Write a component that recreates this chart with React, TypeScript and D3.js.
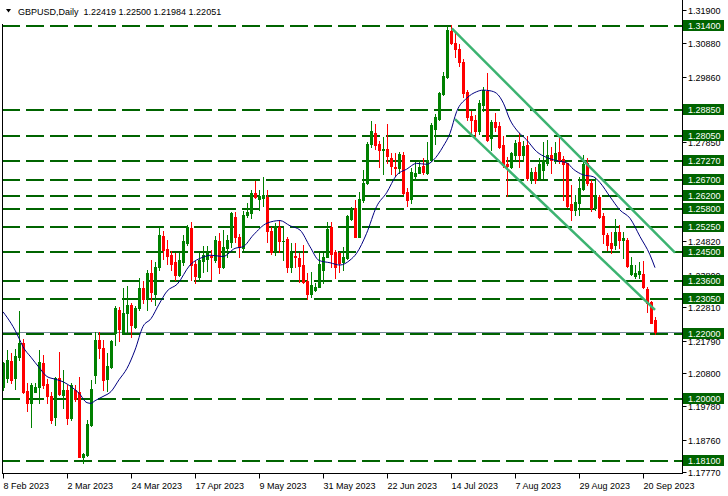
import React from "react";
import * as d3 from "d3";

const header = "GBPUSD,Daily  1.22419 1.22500 1.21984 1.22051";

const opens = [
  1.2038, 1.2063, 1.2115, 1.2063, 1.2130, 1.2171, 1.2025, 1.1987, 1.2023, 1.2036,
  1.2110, 1.2046, 1.2010, 1.1946, 1.2064, 1.2013, 1.2028, 1.1941, 1.2028, 1.2021,
  1.1824, 1.1829, 1.1921, 1.2074, 1.2181, 1.2155, 1.2061, 1.2097, 1.2201, 1.2273,
  1.2206, 1.2262, 1.2288, 1.2222, 1.2278, 1.2339, 1.2308, 1.2385, 1.2320, 1.2405,
  1.2499, 1.2458, 1.2442, 1.2419, 1.2380, 1.2420, 1.2476, 1.2524, 1.2412, 1.2373,
  1.2423, 1.2427, 1.2438, 1.2425, 1.2485, 1.2405, 1.2463, 1.2479, 1.2558, 1.2497,
  1.2461, 1.2563, 1.2570, 1.2631, 1.2611, 1.2615, 1.2619, 1.2515, 1.2454, 1.2525,
  1.2482, 1.2489, 1.2405, 1.2439, 1.2433, 1.2410, 1.2361, 1.2320, 1.2334, 1.2344,
  1.2395, 1.2436, 1.2527, 1.2451, 1.2446, 1.2420, 1.2431, 1.2550, 1.2583, 1.2497,
  1.2609, 1.2660, 1.2780, 1.2815, 1.2779, 1.2762, 1.2765, 1.2736, 1.2711, 1.2708,
  1.2747, 1.2634, 1.2611, 1.2683, 1.2693, 1.2714, 1.2693, 1.2731, 1.2825, 1.2856,
  1.2933, 1.2986, 1.3126, 1.3088, 1.3072, 1.3030, 1.2940, 1.2866, 1.2853, 1.2820,
  1.2900, 1.2942, 1.2797, 1.2846, 1.2836, 1.2776, 1.2719, 1.2711, 1.2747, 1.2787,
  1.2745, 1.2778, 1.2676, 1.2696, 1.2677, 1.2701, 1.2723, 1.2747, 1.2729, 1.2757,
  1.2733, 1.2721, 1.2597, 1.2578, 1.2601, 1.2642, 1.2721, 1.2660, 1.2583, 1.2619,
  1.2560, 1.2502, 1.2476, 1.2471, 1.2512, 1.2487, 1.2487, 1.2383, 1.2375, 1.2383,
  1.2383, 1.2336, 1.2298, 1.22419,
];
const highs = [
  1.2114, 1.2150, 1.2140, 1.2152, 1.2270, 1.2183, 1.2048, 1.2050, 1.2050, 1.2150,
  1.2135, 1.2061, 1.2023, 1.2069, 1.2145, 1.2089, 1.2043, 1.2048, 1.2043, 1.2069,
  1.1834, 1.1936, 1.2059, 1.2204, 1.2206, 1.2181, 1.2140, 1.2181, 1.2285, 1.2283,
  1.2339, 1.2346, 1.2293, 1.2285, 1.2370, 1.2360, 1.2395, 1.2425, 1.2420, 1.2525,
  1.2515, 1.2487, 1.2454, 1.2446, 1.2446, 1.2501, 1.2532, 1.2543, 1.2423, 1.2448,
  1.2468, 1.2468, 1.2456, 1.2500, 1.2507, 1.2517, 1.2502, 1.2571, 1.2573, 1.2504,
  1.2576, 1.2599, 1.2640, 1.2667, 1.2640, 1.2680, 1.2640, 1.2527, 1.2538, 1.2548,
  1.2522, 1.2495, 1.2478, 1.2476, 1.2448, 1.2471, 1.2387, 1.2390, 1.2356, 1.2446,
  1.2446, 1.2543, 1.2543, 1.2456, 1.2451, 1.2466, 1.2563, 1.2588, 1.2609, 1.2634,
  1.2701, 1.2787, 1.2852, 1.2841, 1.2790, 1.2802, 1.2841, 1.2752, 1.2752, 1.2757,
  1.2757, 1.2647, 1.2706, 1.2726, 1.2731, 1.2736, 1.2787, 1.2843, 1.2872, 1.2940,
  1.3001, 1.3141, 1.3144, 1.3120, 1.3085, 1.3040, 1.2945, 1.2880, 1.2868, 1.2915,
  1.2955, 1.2996, 1.2854, 1.2874, 1.2848, 1.2805, 1.2740, 1.2757, 1.2792, 1.2815,
  1.2790, 1.2805, 1.2706, 1.2711, 1.2738, 1.2787, 1.2792, 1.2772, 1.2787, 1.2801,
  1.2742, 1.2723, 1.2655, 1.2624, 1.2680, 1.2747, 1.2736, 1.2670, 1.2675, 1.2624,
  1.2568, 1.2509, 1.2512, 1.2550, 1.2532, 1.2512, 1.2492, 1.2436, 1.2410, 1.2420,
  1.2423, 1.2342, 1.2301, 1.22500,
];
const lows = [
  1.2028, 1.2053, 1.2048, 1.2030, 1.2120, 1.2018, 1.1965, 1.1914, 1.2022, 1.1987,
  1.2033, 1.1987, 1.1928, 1.1921, 1.2013, 1.1972, 1.1924, 1.1936, 1.1995, 1.1822,
  1.1804, 1.1827, 1.1919, 1.2048, 1.2125, 1.2028, 1.2025, 1.2095, 1.2166, 1.2179,
  1.2203, 1.2201, 1.2191, 1.2216, 1.2273, 1.2293, 1.2273, 1.2300, 1.2288, 1.2395,
  1.2428, 1.2412, 1.2395, 1.2364, 1.2375, 1.2410, 1.2471, 1.2364, 1.2354, 1.2364,
  1.2390, 1.2392, 1.2366, 1.2418, 1.2387, 1.2400, 1.2434, 1.2464, 1.2479, 1.2436,
  1.2456, 1.2558, 1.2553, 1.2614, 1.2578, 1.2590, 1.2480, 1.2444, 1.2441, 1.2451,
  1.2426, 1.2390, 1.2390, 1.2405, 1.2359, 1.2356, 1.2306, 1.2313, 1.2332, 1.2342,
  1.2354, 1.2434, 1.2405, 1.2369, 1.2390, 1.2395, 1.2428, 1.2548, 1.2495, 1.2495,
  1.2604, 1.2658, 1.2772, 1.2764, 1.2711, 1.2689, 1.2723, 1.2689, 1.2682, 1.2693,
  1.2627, 1.2592, 1.2599, 1.2670, 1.2690, 1.2689, 1.2689, 1.2729, 1.2780, 1.2853,
  1.2930, 1.2981, 1.3086, 1.3045, 1.3020, 1.2925, 1.2854, 1.2808, 1.2805, 1.2810,
  1.2880, 1.2788, 1.2762, 1.2821, 1.2767, 1.2711, 1.2621, 1.2706, 1.2730, 1.2711,
  1.2728, 1.2670, 1.2660, 1.2661, 1.2669, 1.2675, 1.2716, 1.2690, 1.2721, 1.2721,
  1.2609, 1.2589, 1.2548, 1.2563, 1.2563, 1.2640, 1.2655, 1.2576, 1.2578, 1.2553,
  1.2477, 1.2456, 1.2448, 1.2458, 1.2461, 1.2431, 1.2405, 1.2380, 1.2370, 1.2370,
  1.2339, 1.2267, 1.2232, 1.21984,
];
const closes = [
  1.2109, 1.2120, 1.2059, 1.2132, 1.2173, 1.2023, 1.1987, 1.2043, 1.2038, 1.2113,
  1.2043, 1.2008, 1.1936, 1.2064, 1.2016, 1.2028, 1.1941, 1.2043, 1.1999, 1.1824,
  1.1832, 1.1924, 1.2031, 1.2181, 1.2155, 1.2059, 1.2101, 1.2178, 1.2279, 1.2213,
  1.2262, 1.2288, 1.2227, 1.2278, 1.2339, 1.2305, 1.2385, 1.2329, 1.2405, 1.2502,
  1.2456, 1.2439, 1.2412, 1.2380, 1.2425, 1.2484, 1.2525, 1.2410, 1.2376, 1.2425,
  1.2441, 1.2446, 1.2434, 1.2487, 1.2405, 1.2464, 1.2487, 1.2570, 1.2497, 1.2464,
  1.2564, 1.2573, 1.2631, 1.2619, 1.2621, 1.2625, 1.2515, 1.2451, 1.2529, 1.2485,
  1.2485, 1.2405, 1.2448, 1.2434, 1.2407, 1.2359, 1.2321, 1.2349, 1.2344, 1.2413,
  1.2436, 1.2519, 1.2444, 1.2405, 1.2417, 1.2436, 1.2560, 1.2578, 1.2497, 1.2612,
  1.2660, 1.2780, 1.2820, 1.2777, 1.2762, 1.2765, 1.2743, 1.2714, 1.2708, 1.2750,
  1.2631, 1.2609, 1.2694, 1.2693, 1.2711, 1.2696, 1.2731, 1.2838, 1.2864, 1.2935,
  1.2988, 1.3129, 1.3088, 1.3070, 1.3030, 1.2937, 1.2864, 1.2853, 1.2820, 1.2905,
  1.2945, 1.2792, 1.2848, 1.2831, 1.2772, 1.2716, 1.2712, 1.2752, 1.2784, 1.2747,
  1.2775, 1.2676, 1.2696, 1.2671, 1.2718, 1.2731, 1.2747, 1.2731, 1.2754, 1.2731,
  1.2718, 1.2591, 1.2578, 1.2604, 1.2645, 1.2718, 1.2660, 1.2583, 1.2624, 1.2556,
  1.2504, 1.2471, 1.2461, 1.2512, 1.2487, 1.2492, 1.2407, 1.2410, 1.2385, 1.2393,
  1.2342, 1.2293, 1.2234, 1.22051,
];

// moving average readings: [bar index, value]
const maPoints: [number, number][] = [
  [0, 1.2267], [2, 1.2232], [3, 1.2211], [4, 1.2186], [5, 1.216], [7, 1.2128],
  [9, 1.2097], [11, 1.2069], [13, 1.2061], [15, 1.2053], [17, 1.2038], [19, 1.2018],
  [21, 1.1989], [22, 1.1987], [23, 1.1995], [25, 1.2008], [27, 1.2023], [29, 1.2059],
  [31, 1.2094], [33, 1.215], [35, 1.2222], [37, 1.2246], [39, 1.229], [41, 1.233],
  [43.6, 1.2352], [46.75, 1.241], [50, 1.2434], [52, 1.244], [55, 1.2436], [58, 1.2461],
  [60, 1.2466], [62.6, 1.2502], [66, 1.2538], [69.25, 1.2546], [71.75, 1.253],
  [74.25, 1.2517], [76.75, 1.2466], [79, 1.2424], [81.75, 1.2417], [84.25, 1.241],
  [86.75, 1.2425], [88.4, 1.2446], [90.9, 1.2507], [93.4, 1.2589], [95.9, 1.2631],
  [98.4, 1.2685], [100.9, 1.2703], [103.4, 1.2721], [105.9, 1.2718], [107.6, 1.2731],
  [110, 1.2772], [111.75, 1.2813], [113.4, 1.2879], [115.9, 1.292], [118.4, 1.294],
  [120, 1.2945], [121.75, 1.2943], [123.4, 1.2935], [125.1, 1.2905], [126.75, 1.2854],
  [128.4, 1.2823], [130.9, 1.2793], [133.4, 1.2757], [135.9, 1.2739], [138.4, 1.2729],
  [140.9, 1.2723], [142.6, 1.2703], [145, 1.2686], [147.6, 1.268], [149.25, 1.2662],
  [151.75, 1.2619], [154.25, 1.2578], [156.75, 1.2553], [159.25, 1.2497],
  [161.75, 1.2441], [163, 1.2402],
];

const upperChannel: [number, number][] = [[112.2, 1.3134], [168, 1.2448]];
const lowerChannel: [number, number][] = [[113, 1.2856], [163, 1.2273]];

const levels = [1.314, 1.2885, 1.2805, 1.2727, 1.267, 1.262, 1.258, 1.2525, 1.245, 1.236, 1.2305, 1.22, 1.2, 1.181];
const priceTicks = [1.319, 1.3088, 1.2986, 1.2884, 1.2785, 1.2683, 1.2581, 1.2482, 1.238, 1.2281, 1.2179, 1.208, 1.1978, 1.1876, 1.1777];
const xTickIndex = [0, 16, 32, 48, 64, 80, 96, 112, 128, 144, 160];
const xTickLabels = ["8 Feb 2023", "2 Mar 2023", "24 Mar 2023", "17 Apr 2023", "9 May 2023", "31 May 2023", "22 Jun 2023", "14 Jul 2023", "7 Aug 2023", "29 Aug 2023", "20 Sep 2023"];
const bidPrice = 1.22051;

const W = 728;
const H = 496;
const FONT = "'Liberation Sans', Arial, sans-serif";

export default function App() {
  const x = d3.scaleLinear().domain([0, 170]).range([3, 683]);
  const y = d3.scaleLinear().domain([1.1777, 1.319]).range([472, 10]);
  const axisX = 682.5;
  const axisY = 473.5;

  const line = d3.line<[number, number]>().x((d) => x(d[0])).y((d) => y(d[1]));
  const maLine = d3
    .line<[number, number]>()
    .x((d) => x(d[0]))
    .y((d) => y(d[1]))
    .curve(d3.curveMonotoneX);

  const candles = opens.map((o, i) => {
    const c = closes[i];
    const h = highs[i];
    const l = lows[i];
    const cx = Math.round(x(i));
    const up = c >= o;
    const col = up ? "#008000" : "#ff0000";
    const top = Math.round(y(Math.max(o, c)));
    const bot = Math.round(y(Math.min(o, c)));
    const hy = Math.round(y(h));
    const ly = Math.round(y(l));
    return (
      <g key={i}>
        <rect x={cx} y={hy} width={1} height={Math.max(1, ly - hy + 1)} fill={col} />
        <rect x={cx - 1} y={top} width={3} height={Math.max(1, bot - top + 1)} fill={col} />
      </g>
    );
  });

  return (
    <svg
      width={W}
      height={H}
      style={{ position: "absolute", left: 0, top: 0, background: "#ffffff" }}
      fontFamily={FONT}
    >
      <rect x={0} y={0} width={W} height={H} fill="#ffffff" />
      {/* level lines */}
      {levels.map((lv, i) => {
        const yy = Math.round(y(lv));
        return (
          <line
            key={"lv" + i}
            x1={2}
            x2={682}
            y1={yy}
            y2={yy}
            stroke="#006400"
            strokeWidth={2}
            strokeDasharray="18 6"
            shapeRendering="crispEdges"
          />
        );
      })}
      {/* bid line */}
      <line
        x1={2}
        x2={682}
        y1={Math.round(y(bidPrice)) + 0.5}
        y2={Math.round(y(bidPrice)) + 0.5}
        stroke="#778899"
        strokeWidth={1.5}
        shapeRendering="crispEdges"
      />
      <g shapeRendering="crispEdges">{candles}</g>
      <path d={maLine(maPoints) || ""} fill="none" stroke="#000080" strokeWidth={1} />
      <path d={line(upperChannel) || ""} fill="none" stroke="#3cb371" strokeWidth={2.5} />
      <path d={line(lowerChannel) || ""} fill="none" stroke="#3cb371" strokeWidth={2.5} />

      {/* frame */}
      <line x1={2.5} x2={2.5} y1={24} y2={axisY} stroke="#000" strokeWidth={1} />
      <line x1={2} x2={axisX + 0.5} y1={axisY} y2={axisY} stroke="#000" strokeWidth={1} />
      <line x1={axisX} x2={axisX} y1={0} y2={axisY} stroke="#000" strokeWidth={1} />

      {/* x ticks */}
      {xTickIndex.map((ti, k) => {
        const xx = Math.round(x(ti)) + 0.5;
        return (
          <g key={"xt" + k}>
            <line x1={xx} x2={xx} y1={axisY} y2={axisY + 5} stroke="#000" strokeWidth={1} />
            <text x={xx} y={488.5} fontSize={9} fill="#000">
              {xTickLabels[k]}
            </text>
          </g>
        );
      })}

      {/* price ticks (some are covered by level labels, as in the reference) */}
      {priceTicks.map((p, k) => {
        const yy = Math.round(y(p)) + 0.5;
        return (
          <g key={"pt" + k}>
            <line x1={axisX} x2={axisX + 4} y1={yy} y2={yy} stroke="#000" strokeWidth={1} />
            <text x={688} y={yy + 3} fontSize={9} fill="#000">
              {p.toFixed(5)}
            </text>
          </g>
        );
      })}

      {/* level labels */}
      {levels.map((lv, i) => {
        const yy = y(lv);
        return (
          <g key={"ll" + i}>
            <rect x={683} y={Math.round(yy) - 6} width={41} height={11} fill="#006400" />
            <text x={688} y={Math.round(yy) + 3} fontSize={9} fill="#ffffff">
              {lv.toFixed(5)}
            </text>
          </g>
        );
      })}

      {/* header */}
      <path d="M6,9 L11,9 L8.5,12.5 Z" fill="#000" />
      <text x={18} y={15} fontSize={9} fill="#000" style={{ whiteSpace: "pre" }}>
        {header}
      </text>
    </svg>
  );
}
